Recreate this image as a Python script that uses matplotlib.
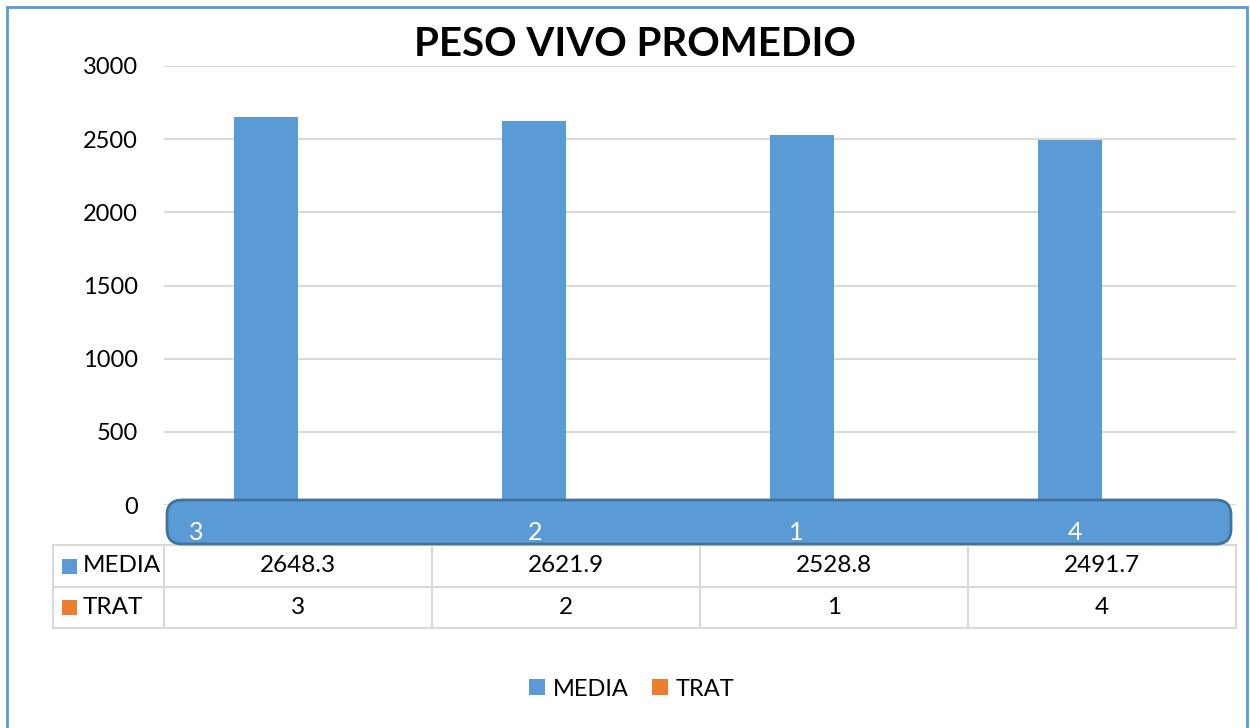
import matplotlib
matplotlib.use("Agg")
import matplotlib.pyplot as plt
from matplotlib import transforms
from matplotlib.patches import FancyBboxPatch, Rectangle

# data
categories = ["3", "2", "1", "4"]
media = [2648.3, 2621.9, 2528.8, 2491.7]
trat = [3, 2, 1, 4]
yticks = [0, 500, 1000, 1500, 2000, 2500, 3000]

BLUE = "#5B9BD5"
ORANGE = "#ED7D31"
EDGE = "#41719C"
GRID = "#D9D9D9"
W, H = 1250, 728

plt.rcParams["font.family"] = ["Lato", "DejaVu Sans"]


def fx(px):
    return px / W


def fy(py):
    return 1 - py / H


fig = plt.figure(figsize=(12.5, 7.28), dpi=100)
ax = fig.add_axes([fx(164), fy(505), fx(1236) - fx(164), fy(66) - fy(505)])

x = list(range(len(categories)))
bw = 0.239
bars_m = ax.bar([i - bw / 2 for i in x], media, bw, color=BLUE, label="MEDIA", zorder=3)
bars_t = ax.bar([i + bw / 2 for i in x], trat, bw, color=ORANGE, label="TRAT", zorder=3)

ax.set_xlim(-0.5, len(categories) - 0.5)
ax.set_ylim(0, 3000)
ax.set_yticks(yticks)
ax.set_yticklabels([str(t) for t in yticks], fontsize=17)
ax.tick_params(axis="y", length=0, pad=19)
ax.set_xticks([])
ax.yaxis.grid(True, color=GRID, linewidth=1.5, zorder=0)
for s in ax.spines.values():
    s.set_visible(False)

fig.text(fx(635), fy(45), "PESO VIVO PROMEDIO", ha="center", va="center",
         fontsize=29, fontweight="bold")

# rounded shape covering the category axis
blob = FancyBboxPatch((fx(167), fy(544)), fx(1231) - fx(167), fy(500) - fy(544),
                      boxstyle="round,pad=0,rounding_size=0.012",
                      transform=fig.transFigure, facecolor=BLUE, edgecolor=EDGE,
                      linewidth=2, zorder=5, mutation_aspect=W / H)
fig.patches.append(blob)

mix = transforms.blended_transform_factory(ax.transData, fig.transFigure)
label_shift = [-0.38, -0.115, -0.14, -0.10]
for i, c in enumerate(categories):
    fig.text(i + label_shift[i], fy(532), c, transform=mix, ha="center", va="center",
             color="white", fontsize=18, zorder=6)

# data table
t_left, t_top, t_mid, t_bot = fx(53), fy(545), fy(587), fy(628)
for yy in (t_top, t_mid, t_bot):
    fig.add_artist(plt.Line2D([t_left, fx(1236)], [yy, yy], transform=fig.transFigure,
                              color=GRID, linewidth=1.5))
fig.add_artist(plt.Line2D([t_left, t_left], [t_top, t_bot], transform=fig.transFigure,
                          color=GRID, linewidth=1.5))
for b in [i - 0.5 for i in range(len(categories) + 1)]:
    fig.add_artist(plt.Line2D([b, b], [t_top, t_bot], transform=mix,
                              color=GRID, linewidth=1.5))

rows = [("MEDIA", BLUE, media, fy(566)), ("TRAT", ORANGE, trat, fy(607))]
for name, col, vals, yy in rows:
    fig.patches.append(Rectangle((fx(62), yy - 7.5 / H), 15 / W, 15 / H,
                                 transform=fig.transFigure, facecolor=col, edgecolor="none"))
    fig.text(fx(83), yy, name, ha="left", va="center", fontsize=17.5)
    for i, v in enumerate(vals):
        fig.text(i, yy, str(v), transform=mix, ha="center", va="center", fontsize=17.5)

fig.legend(handles=[bars_m, bars_t], labels=["MEDIA", "TRAT"], loc="center",
           bbox_to_anchor=(fx(632), fy(689)), ncol=2, frameon=False, fontsize=17,
           handlelength=0.65, handleheight=0.65, handletextpad=0.35, columnspacing=1.0)

# outer chart border
fig.patches.append(Rectangle((fx(7), fy(760)), fx(1247) - fx(7), fy(7) - fy(760),
                             transform=fig.transFigure, facecolor="none",
                             edgecolor=BLUE, linewidth=2, zorder=10))

fig.savefig("out.png", dpi=100)
